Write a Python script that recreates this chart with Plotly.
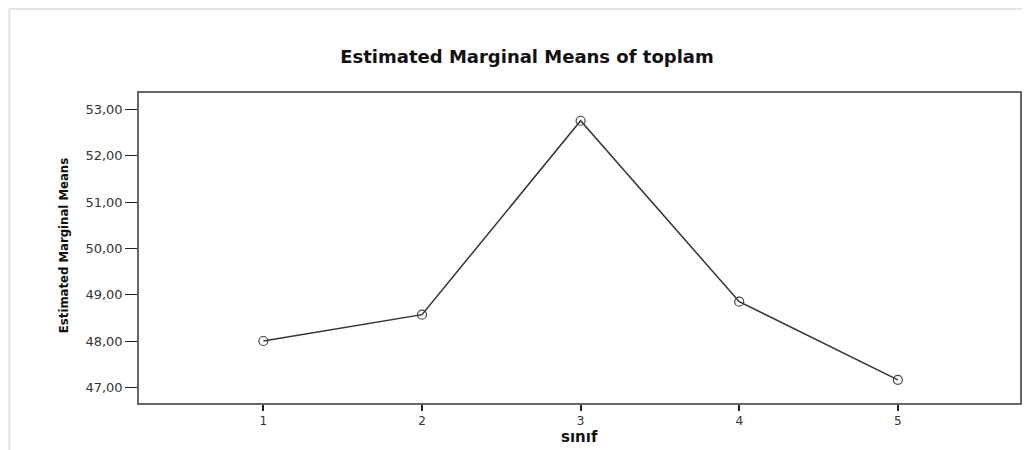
import plotly.graph_objects as go

# Data
sinif = [1, 2, 3, 4, 5]
means = [48.00, 48.57, 52.76, 48.85, 47.16]
x_tick_labels = ["1", "2", "3", "4", "5"]
y_tick_values = [47, 48, 49, 50, 51, 52, 53]
y_tick_labels = ["47,00", "48,00", "49,00", "50,00", "51,00", "52,00", "53,00"]

title_text = "Estimated Marginal Means of toplam"
y_title = "Estimated Marginal Means"
x_title = "sınıf"

fig = go.Figure()
fig.add_trace(go.Scatter(
    x=sinif, y=means, mode="lines+markers",
    line=dict(color="#333333", width=1.5),
    marker=dict(symbol="circle-open", size=9, color="#444444", line=dict(width=1.2)),
    showlegend=False, hoverinfo="skip",
))

# page has an 8px body margin, so the figure starts at page (8, 8)
OFF = 8
W, H = 1030 - OFF, 450 - OFF
L, R, T, B = 139 - OFF, 8, 93 - OFF, 47
pw, ph = W - L - R, H - T - B

def px2x(p):  # page pixel -> paper x
    return (p - OFF - L) / pw

def py2y(p):  # page pixel -> paper y
    return (H - B - (p - OFF)) / ph

fig.update_layout(
    width=W, height=H,
    margin=dict(l=L, r=R, t=T, b=B, pad=0),
    paper_bgcolor="white", plot_bgcolor="white",
    title=dict(text=title_text, x=(527 - OFF) / W, xanchor="center", y=1 - (57 - OFF) / H, yanchor="middle",
               font=dict(family="DejaVu Sans", size=18, color="#111111", weight="bold")),
    xaxis=dict(range=[0.216, 5.77], tickmode="array", tickvals=sinif, ticktext=x_tick_labels,
               showgrid=False, zeroline=False, showline=True, mirror=True,
               linecolor="#666666", linewidth=1.5,
               ticks="outside", ticklen=6, tickwidth=1.5, tickcolor="#222222",
               tickfont=dict(family="DejaVu Sans", size=12, color="#333333")),
    yaxis=dict(range=[46.66, 53.36], tickmode="array", tickvals=y_tick_values, ticktext=y_tick_labels,
               showgrid=False, zeroline=False, showline=True, mirror=True,
               linecolor="#666666", linewidth=1.5,
               ticks="outside", ticklen=12, tickwidth=1.2, tickcolor="#222222",
               tickfont=dict(family="DejaVu Sans", size=13, color="#333333")),
    annotations=[
        dict(text=y_title, xref="paper", yref="paper", x=px2x(63), y=py2y(246),
             textangle=-90, showarrow=False, xanchor="center", yanchor="middle",
             font=dict(family="Liberation Sans Narrow, DejaVu Sans Condensed, Roboto Condensed, Liberation Sans",
                       size=13, color="#111111", weight="bold")),
        dict(text=x_title, xref="paper", yref="paper", x=px2x(580), y=py2y(437),
             showarrow=False, xanchor="center", yanchor="middle",
             font=dict(family="DejaVu Sans", size=15, color="#111111", weight="bold")),
    ],
    shapes=[
        dict(type="line", xref="paper", yref="paper", x0=px2x(9), y0=py2y(9), x1=px2x(1032), y1=py2y(9),
             line=dict(color="#e4e4e4", width=2), layer="below"),
        dict(type="line", xref="paper", yref="paper", x0=px2x(9), y0=py2y(9), x1=px2x(9), y1=py2y(452),
             line=dict(color="#e4e4e4", width=2), layer="below"),
    ],
)

fig.write_html("out.html")
